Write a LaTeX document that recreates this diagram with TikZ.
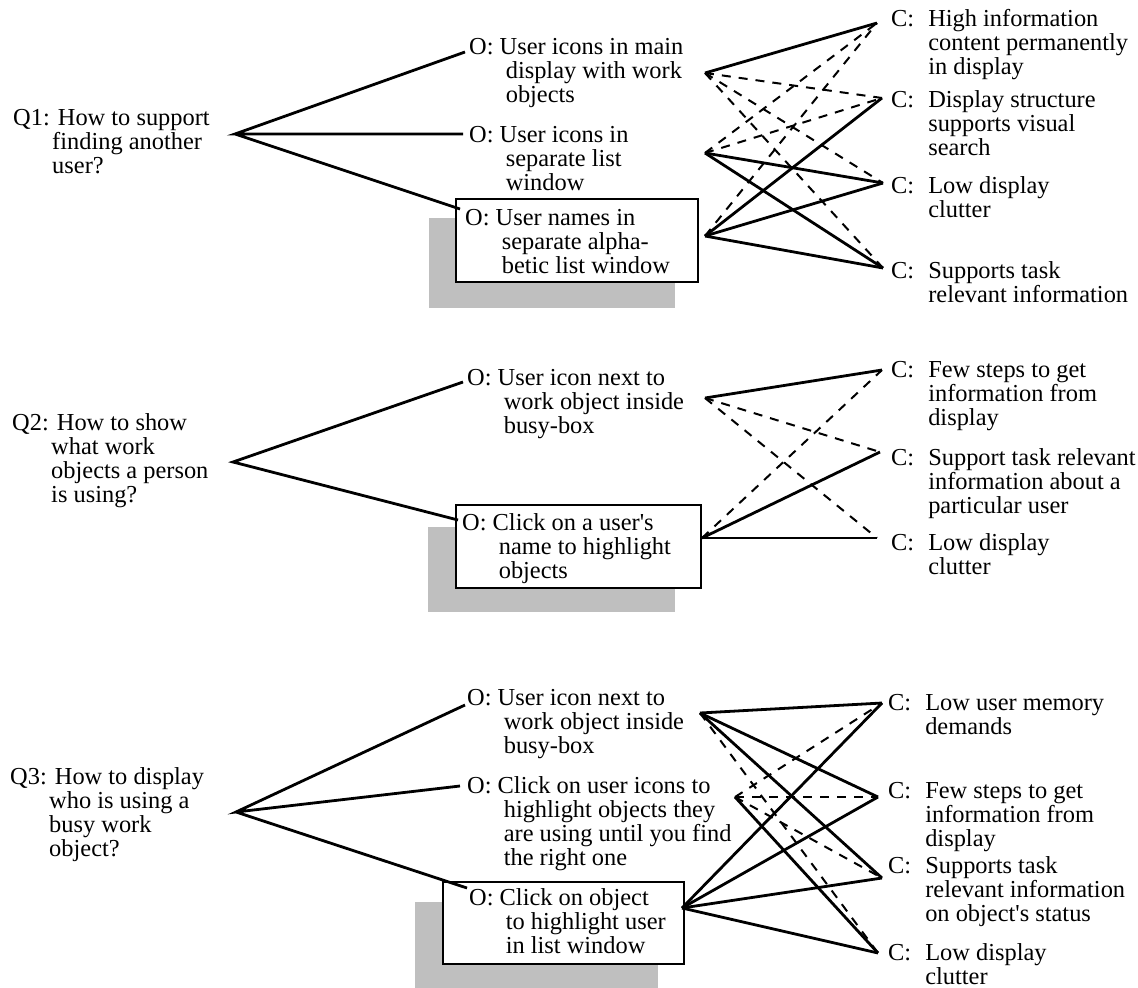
\documentclass[tikz,border=0pt]{standalone}
\usepackage{fontspec}
\setmainfont{Liberation Serif}
\usepackage{tikz}
\usetikzlibrary{positioning}

\newcommand{\qtext}[1]{\begin{tabular}[t]{@{}l@{}}#1\end{tabular}}
\newcommand{\qin}{\hspace*{1.6em}}
\newcommand{\oin}{\hspace*{1.5em}}
\newcommand{\cin}{\hspace*{1.52em}}
\newcommand{\cpre}{\makebox[1.52em][l]{C:}}

\begin{document}
\begin{tikzpicture}[x=1pt, y=-1pt,
  txt/.style={anchor=base west, inner sep=0pt, font=\fontsize{24.4}{24}\selectfont},
  goodlink/.style={line width=2.8pt},
  badlink/.style={line width=2pt, dash pattern=on 9pt off 8pt},
  optbox/.style={draw, line width=2.5pt, fill=white},
  shade/.style={fill=black!25}]
\useasboundingbox (0,0) rectangle (1138,988);

% Q1: finding another user
\node[txt] (q1) at (13,125) {\qtext{Q1: How to support\\\qin finding another\\\qin user?}};
\node[txt] (o11) at (469,54) {\qtext{O: User icons in main\\\oin display with work\\\oin objects}};
\node[txt] (o12) at (469,142) {\qtext{O: User icons in\\\oin separate list\\\oin window}};
\fill[shade] (429,218) rectangle (675,308);
\draw[optbox] (456,199) rectangle (698,282);
\node[txt] (o13) at (465,225) {\qtext{O: User names in\\\oin separate alpha-\\\oin betic list window}};
\node[txt] (c11) at (891,26) {\qtext{\cpre High information\\\cin content permanently\\\cin in display}};
\node[txt] (c12) at (891,107) {\qtext{\cpre Display structure\\\cin supports visual\\\cin search}};
\node[txt] (c13) at (891,193) {\qtext{\cpre Low display\\\cin clutter}};
\node[txt] (c14) at (891,278) {\qtext{\cpre Supports task\\\cin relevant information}};
\coordinate (r1) at (235,134);
\coordinate (o11l) at (465,52);
\coordinate (o12l) at (463,134);
\coordinate (o13l) at (460,209);
\coordinate (o11r) at (705,73);
\coordinate (o12r) at (705,153);
\coordinate (o13r) at (705,236);
\coordinate (c11l) at (877,23);
\coordinate (c12l) at (882,98);
\coordinate (c13l) at (883,183);
\coordinate (c14l) at (883,268);
\draw[goodlink] (o11l) -- (r1) -- (o12l) (r1) -- (o13l);
\draw[goodlink] (o11r) -- (c11l);
\draw[badlink] (o11r) -- (c12l);
\draw[badlink] (o11r) -- (c13l);
\draw[badlink] (o11r) -- (c14l);
\draw[badlink] (o12r) -- (c11l);
\draw[badlink] (o12r) -- (c12l);
\draw[goodlink] (o12r) -- (c13l);
\draw[goodlink] (o12r) -- (c14l);
\draw[badlink] (o13r) -- (c11l);
\draw[goodlink] (o13r) -- (c12l);
\draw[goodlink] (o13r) -- (c13l);
\draw[goodlink] (o13r) -- (c14l);

% Q2: what work objects a person is using
\node[txt] (q2) at (12,430) {\qtext{Q2: How to show\\\qin what work\\\qin objects a person\\\qin is using?}};
\node[txt] (o21) at (467,385) {\qtext{O: User icon next to\\\oin work object inside\\\oin busy-box}};
\fill[shade] (428,527) rectangle (675,612);
\draw[optbox] (456,505) rectangle (701,588);
\node[txt] (o22) at (462,530) {\qtext{O: Click on a user\textquotesingle s\\\oin name to highlight\\\oin objects}};
\node[txt] (c21) at (891,377) {\qtext{\cpre Few steps to get\\\cin information from\\\cin display}};
\node[txt] (c22) at (891,465) {\qtext{\cpre Support task relevant\\\cin information about a\\\cin particular user}};
\node[txt] (c23) at (891,550) {\qtext{\cpre Low display\\\cin clutter}};
\coordinate (r2) at (233,462);
\coordinate (o21l) at (463,382);
\coordinate (o22l) at (458,520);
\coordinate (o21r) at (705,398);
\coordinate (o22r) at (702,538);
\coordinate (c21l) at (882,370);
\coordinate (c22l) at (880,452);
\coordinate (c23l) at (877,538);
\draw[goodlink] (o21l) -- (r2) -- (o22l);
\draw[goodlink] (o21r) -- (c21l);
\draw[badlink] (o21r) -- (c22l);
\draw[badlink] (o21r) -- (c23l);
\draw[badlink] (o22r) -- (c21l);
\draw[goodlink] (o22r) -- (c22l);
\draw[goodlink] (o22r) -- (c23l);

% Q3: who is using a busy work object
\node[txt] (q3) at (10,784) {\qtext{Q3: How to display\\\qin who is using a\\\qin busy work\\\qin object?}};
\node[txt] (o31) at (467,705) {\qtext{O: User icon next to\\\oin work object inside\\\oin busy-box}};
\node[txt] (o32) at (467,793) {\qtext{O: Click on user icons to\\\oin highlight objects they\\\oin are using until you find\\\oin the right one}};
\fill[shade] (415,902) rectangle (658,988);
\draw[optbox] (443,882) rectangle (684,964);
\node[txt] (o33) at (469,905) {\qtext{O: Click on object\\\oin to highlight user\\\oin in list window}};
\node[txt] (c31) at (888,710) {\qtext{\cpre Low user memory\\\cin demands}};
\node[txt] (c32) at (888,798) {\qtext{\cpre Few steps to get\\\cin information from\\\cin display}};
\node[txt] (c33) at (888,873) {\qtext{\cpre Supports task\\\cin relevant information\\\cin on object\textquotesingle s status}};
\node[txt] (c34) at (888,960) {\qtext{\cpre Low display\\\cin clutter}};
\coordinate (r3) at (236,812);
\coordinate (o31l) at (465,705);
\coordinate (o32l) at (460,786);
\coordinate (o33l) at (467,888);
\coordinate (o31r) at (700,713);
\coordinate (o32r) at (735,797);
\coordinate (o33r) at (682,908);
\coordinate (c31l) at (882,703);
\coordinate (c32l) at (878,797);
\coordinate (c33l) at (882,878);
\coordinate (c34l) at (878,953);
\draw[goodlink] (o31l) -- (r3) -- (o32l) (r3) -- (o33l);
\draw[goodlink] (o31r) -- (c31l);
\draw[goodlink] (o31r) -- (c32l);
\draw[goodlink] (o31r) -- (c33l);
\draw[badlink] (o31r) -- (c34l);
\draw[badlink] (o32r) -- (c31l);
\draw[badlink] (o32r) -- (c32l);
\draw[badlink] (o32r) -- (c33l);
\draw[goodlink] (o32r) -- (c34l);
\draw[goodlink] (o33r) -- (c31l);
\draw[goodlink] (o33r) -- (c32l);
\draw[goodlink] (o33r) -- (c33l);
\draw[goodlink] (o33r) -- (c34l);
\end{tikzpicture}
\end{document}
